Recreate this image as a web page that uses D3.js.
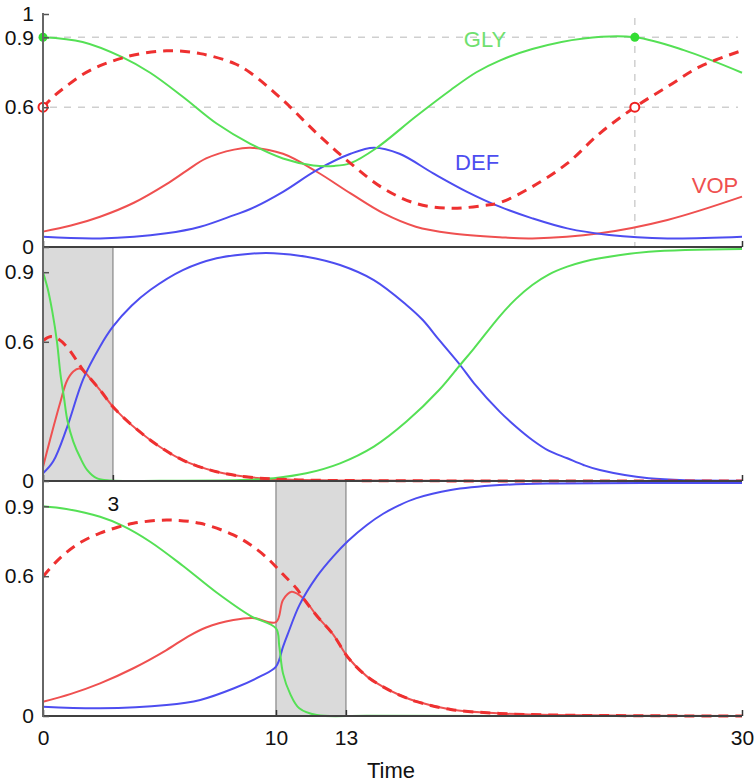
<!DOCTYPE html>
<html><head><meta charset="utf-8">
<script src="https://cdn.jsdelivr.net/npm/d3@7"></script>
<style>body{margin:0;background:#fff}svg{display:block}</style>
</head><body>
<svg id="c" width="756" height="783"></svg>
<script>
// ---- data: [time, value] pairs ----
// Panel 1 (free oscillation)
const gly1 = [[0,0.90],[1.7,0.88],[3.4,0.815],[4.6,0.748],[6.0,0.645],[7.45,0.53],[8.9,0.443],[10.3,0.38],[11.6,0.35],[12.5,0.348],[13.2,0.36],[14.3,0.424],[16.0,0.56],[17.5,0.674],[18.6,0.75],[19.6,0.80],[21.0,0.85],[23.2,0.895],[25.4,0.90],[27.5,0.845],[30,0.748]];
const def1 = [[0,0.044],[2.45,0.037],[5.3,0.059],[6.75,0.087],[8.2,0.137],[8.9,0.163],[10.3,0.237],[11.75,0.33],[13.2,0.40],[14.2,0.426],[15.3,0.40],[16.75,0.316],[18.2,0.237],[19.6,0.173],[21.0,0.123],[22.5,0.08],[24.3,0.052],[26.8,0.037],[30,0.044]];
const vop1 = [[0,0.066],[1.2,0.092],[2.45,0.13],[3.9,0.19],[5.3,0.27],[6.2,0.33],[7.0,0.38],[8.2,0.418],[8.9,0.426],[10.3,0.40],[11.75,0.323],[13.2,0.23],[14.6,0.145],[16.0,0.087],[17.5,0.059],[19.6,0.042],[21.0,0.037],[23.9,0.059],[26.8,0.116],[30,0.216]];
const vopTotal1 = [[0,0.6],[0.5,0.65],[1.0,0.69],[1.7,0.74],[2.45,0.778],[3.2,0.805],[3.9,0.824],[5.3,0.842],[6.75,0.83],[8.2,0.788],[8.9,0.748],[10.3,0.63],[11.75,0.488],[13.2,0.359],[14.6,0.252],[16.0,0.187],[17.5,0.166],[18.9,0.178],[19.6,0.19],[21.0,0.259],[22.5,0.359],[23.9,0.488],[25.4,0.60],[26.8,0.688],[28.2,0.774],[29.85,0.838]];
const markTimes1 = [0, 25.4];
const markGly1 = [0.9, 0.9];
const markVop1 = [0.6, 0.6];

// Panel 2 (pulse 0-3)
const gly2 = [[0,0.90],[0.2,0.83],[0.4,0.73],[0.6,0.60],[0.75,0.46],[0.9,0.36],[1.05,0.26],[1.3,0.17],[1.6,0.10],[1.9,0.047],[2.3,0.012],[2.9,0.002],[5,0.001],[8.5,0.004],[9.9,0.012],[11.3,0.033],[12.75,0.076],[14.2,0.148],[15.6,0.256],[17.0,0.392],[17.9,0.5],[18.5,0.572],[19.6,0.71],[20.3,0.785],[21.0,0.845],[21.7,0.89],[22.5,0.924],[23.2,0.945],[23.9,0.96],[26.0,0.988],[30,1.0]];
const def2 = [[0,0.033],[0.44,0.085],[1.02,0.228],[1.73,0.44],[2.45,0.58],[3.0,0.665],[3.8,0.755],[4.6,0.823],[6.0,0.909],[7.45,0.96],[8.9,0.98],[9.9,0.982],[11.3,0.967],[12.75,0.931],[14.2,0.866],[15.6,0.759],[16.3,0.694],[17.0,0.608],[17.9,0.5],[18.5,0.421],[19.6,0.299],[20.3,0.234],[21.0,0.177],[21.7,0.131],[22.5,0.098],[23.2,0.069],[23.9,0.047],[26.0,0.012],[30,0.001]];
const vop2 = [[0,0.06],[0.3,0.177],[0.73,0.335],[1.02,0.43],[1.3,0.472],[1.55,0.485],[1.75,0.474],[2.0,0.445],[2.45,0.392],[3.09,0.31],[4.6,0.177],[6.0,0.09],[7.45,0.04],[8.9,0.016],[10.5,0.006],[13,0.002],[30,0]];
const vopTotal2 = [[0,0.605],[0.3,0.622],[0.6,0.615],[1.02,0.579],[1.75,0.474],[2.0,0.445],[2.45,0.392],[3.09,0.31],[4.6,0.177],[6.0,0.09],[7.45,0.04],[8.9,0.016],[10.5,0.006],[13,0.002],[30,0]];
const pulse2 = [0, 3];

// Panel 3 (pulse 10-13)
const gly3 = [[0,0.90],[1.0,0.888],[2.45,0.855],[3.45,0.815],[4.6,0.748],[6.0,0.645],[7.45,0.53],[8.9,0.43],[10.0,0.376],[10.14,0.30],[10.3,0.183],[10.6,0.097],[11.0,0.033],[11.75,0.004],[14,0.001],[30,0]];
const def3 = [[0,0.04],[2.45,0.033],[5.3,0.047],[6.75,0.069],[8.2,0.119],[9.3,0.169],[10.0,0.212],[10.3,0.297],[10.5,0.35],[11.0,0.475],[11.75,0.598],[12.45,0.684],[13.1,0.752],[13.9,0.82],[14.6,0.868],[15.3,0.905],[16.0,0.934],[17.5,0.97],[19.6,0.991],[22,0.998],[30,1.0]];
const vop3 = [[0,0.061],[1.2,0.095],[2.45,0.14],[3.88,0.205],[5.3,0.283],[6.2,0.34],[7.0,0.38],[8.17,0.412],[9.0,0.421],[10.0,0.403],[10.3,0.498],[10.67,0.533],[11.17,0.505],[11.75,0.43],[12.45,0.35],[13.1,0.25],[13.9,0.17],[14.6,0.125],[15.3,0.09],[16.0,0.063],[17.5,0.028],[19.6,0.011],[22,0.004],[30,0]];
const vopTotal3 = [[0,0.598],[0.5,0.655],[1.02,0.703],[1.7,0.75],[2.45,0.785],[3.2,0.81],[3.88,0.827],[5.3,0.841],[6.74,0.827],[8.17,0.777],[8.9,0.735],[9.6,0.68],[10.3,0.608],[10.9,0.545],[11.17,0.505],[11.75,0.43],[12.45,0.35],[13.1,0.25],[13.9,0.17],[14.6,0.125],[15.3,0.09],[16.0,0.063],[17.5,0.028],[19.6,0.011],[22,0.004],[30,0]];
const pulse3 = [10, 13];

const yTicks1 = [0, 0.6, 0.9, 1];
const yTicks23 = [0, 0.6, 0.9];
const xTicks1 = [0, 30];
const xTicks2 = [0, 3, 30];
const xLabels2 = [3];
const xTicks3 = [0, 10, 13, 30];
const seriesLabels = [{name:"GLY", t:18.97, v:0.858, key:"gly"},{name:"DEF", t:18.63, v:0.33, key:"def"},{name:"VOP", t:28.84, v:0.232, key:"vop"}];

// ---- drawing ----
const C = {gly:"#55e055", def:"#4d4df0", vop:"#ef5050", tot:"#ee3030"};
const svg = d3.select("#c");
const FONT = "'Liberation Sans', Arial, Helvetica, sans-serif";
const x = d3.scaleLinear().domain([0,30]).range([43,742]);
const y1 = d3.scaleLinear().domain([0,1]).range([247,14]);
const y2 = d3.scaleLinear().domain([0,1]).range([481,249]);
const y3 = d3.scaleLinear().domain([0,1]).range([716,483]);
const fmt = d => d===0 ? "0" : d===1 ? "1" : d3.format(".1f")(d);

function shade(y, span){
  const g = svg.append("g");
  g.append("rect").attr("x", x(span[0])).attr("width", x(span[1])-x(span[0]))
    .attr("y", y.range()[1]-2).attr("height", y.range()[0]-y.range()[1]+2).attr("fill","#dadada");
  span.forEach(s => g.append("line").attr("x1",x(s)).attr("x2",x(s))
    .attr("y1", y.range()[1]-2).attr("y2", y.range()[0]).attr("stroke","#9a9a9a").attr("stroke-width",1.5));
}
shade(y2, pulse2);
shade(y3, pulse3);

// grid in panel 1
const grid = svg.append("g").attr("stroke","#cfcfcf").attr("stroke-width",1.5).attr("stroke-dasharray","7,7");
[0.9,0.6].forEach(v => grid.append("line").attr("x1",50).attr("x2",738).attr("y1",y1(v)).attr("y2",y1(v)));
grid.append("line").attr("x1",x(markTimes1[1])).attr("x2",x(markTimes1[1])).attr("y1",18).attr("y2",247);

function lines(y, gly, def, vop, tot){
  const line = d3.line().x(d=>x(d[0])).y(d=>y(d[1])).curve(d3.curveCatmullRom.alpha(0.5));
  const g = svg.append("g").attr("fill","none").attr("stroke-linejoin","round");
  g.append("path").attr("d", line(vop)).attr("stroke", C.vop).attr("stroke-width",2);
  g.append("path").attr("d", line(def)).attr("stroke", C.def).attr("stroke-width",2);
  g.append("path").attr("d", line(gly)).attr("stroke", C.gly).attr("stroke-width",2);
  g.append("path").attr("d", line(tot)).attr("stroke", C.tot).attr("stroke-width",3).attr("stroke-dasharray","10,7");
}
lines(y1, gly1, def1, vop1, vopTotal1);
lines(y2, gly2, def2, vop2, vopTotal2);
lines(y3, gly3, def3, vop3, vopTotal3);

// markers panel 1
markTimes1.forEach((t,i)=>{
  svg.append("circle").attr("cx",x(t)).attr("cy",y1(markGly1[i])).attr("r",4.5).attr("fill","#33dd33");
  svg.append("circle").attr("cx",x(t)).attr("cy",y1(markVop1[i])).attr("r",4.5).attr("fill","#fff").attr("stroke","#ee2020").attr("stroke-width",2);
});

// axes
function yAxis(y, ticks){
  const g = svg.append("g").attr("transform","translate(43,0)")
    .call(d3.axisLeft(y).tickValues(ticks).tickSize(-6).tickPadding(9).tickFormat(fmt));
  g.select(".domain").remove();
  g.selectAll(".tick line").attr("stroke","#555").attr("stroke-width",1.5);
  g.selectAll("text").attr("font-family",FONT).attr("font-size",21).attr("fill","#111");
}
function xAxis(y, ticks, labels, pad){
  const g = svg.append("g").attr("transform",`translate(0,${y.range()[0]})`)
    .call(d3.axisBottom(x).tickValues(ticks).tickSize(-6).tickPadding(pad)
      .tickFormat(d => labels.includes(d) ? String(d) : ""));
  g.select(".domain").remove();
  g.selectAll(".tick line").attr("stroke","#333").attr("stroke-width",1.5);
  g.selectAll("text").attr("font-family",FONT).attr("font-size",21).attr("fill","#111");
  svg.append("line").attr("x1",43).attr("x2",742).attr("y1",y.range()[0]).attr("y2",y.range()[0])
    .attr("stroke","#404040").attr("stroke-width",2);
}
xAxis(y1, xTicks1, [], 12);
xAxis(y2, xTicks2, xLabels2, 15);
xAxis(y3, xTicks3, xTicks3, 14);
yAxis(y1, yTicks1);
yAxis(y2, yTicks23);
yAxis(y3, yTicks23);
svg.append("line").attr("x1",43).attr("x2",43).attr("y1",13).attr("y2",717).attr("stroke","#666").attr("stroke-width",2);

// labels
seriesLabels.forEach(s => svg.append("text").attr("x",x(s.t)).attr("y",y1(s.v)).attr("text-anchor","middle")
  .attr("font-family",FONT).attr("font-size",22).attr("fill", s.key==="gly" ? "#6fe06f" : C[s.key]).text(s.name));
svg.append("text").attr("x",391).attr("y",778).attr("text-anchor","middle")
  .attr("font-family",FONT).attr("font-size",22).attr("fill","#111").text("Time");
</script>
</body></html>
